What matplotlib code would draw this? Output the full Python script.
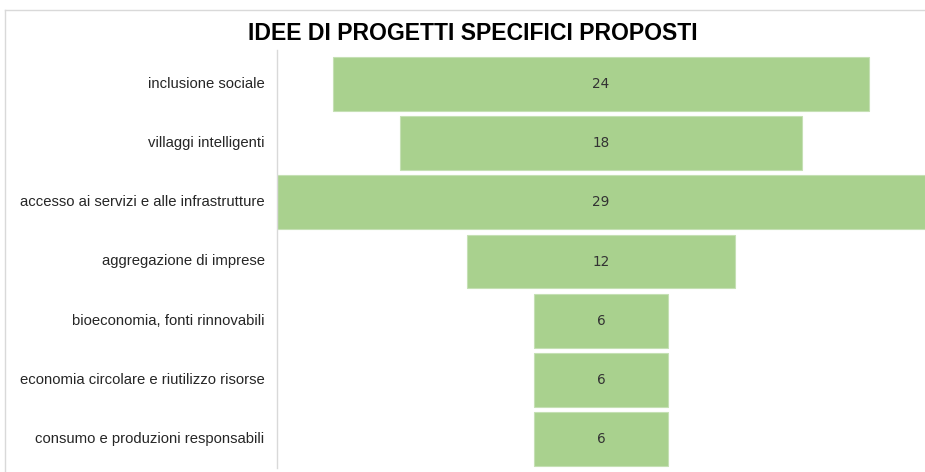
import matplotlib.pyplot as plt
from matplotlib.lines import Line2D

categories = [
    'inclusione sociale',
    'villaggi intelligenti',
    'accesso ai servizi e alle infrastrutture',
    'aggregazione di imprese',
    'bioeconomia, fonti rinnovabili',
    'economia circolare e riutilizzo risorse',
    'consumo e produzioni responsabili',
]
values = [24, 18, 29, 12, 6, 6, 6]
title = 'IDEE DI PROGETTI SPECIFICI PROPOSTI'

bar_color = '#A9D18E'

fig = plt.figure(figsize=(9.25, 4.72), dpi=100, facecolor='white')
W, H = 925, 472
# asse: da x=277 al bordo destro, da y=54 a y=469 (pixel)
ax = fig.add_axes([277 / W, 1 - 469 / H, 1 - 277 / W, (469 - 54) / H])

ypos = list(range(len(categories)))
lefts = [-v / 2 for v in values]
ax.barh(ypos, values, left=lefts, height=0.91, color=bar_color,
        edgecolor='#C5E0B4', linewidth=0.8)

for y, v in zip(ypos, values):
    ax.text(0, y, str(v), ha='center', va='center', fontsize=9.8,
            color='#333333', family='DejaVu Sans')

ax.set_xlim(-14.5, 14.5)
ax.set_ylim(len(categories) - 0.5, -0.5)
ax.set_xticks([])
ax.set_yticks([])
for s in ax.spines.values():
    s.set_visible(False)

# etichette delle categorie
for y, c in zip(ypos, categories):
    ax.annotate(c, xy=(0, y), xycoords=('axes fraction', 'data'),
                xytext=(-9, 0), textcoords='offset points',
                ha='right', va='center', fontsize=10.7,
                family='Liberation Sans', color='#262626')

# linea verticale dell'asse
fig.add_artist(Line2D([277 / W, 277 / W], [1 - 468 / H, 1 - 50 / H],
                      color='#D9D9D9', linewidth=1))
# bordo del grafico
fig.add_artist(Line2D([5 / W, 1], [1 - 10 / H, 1 - 10 / H],
                      color='#D9D9D9', linewidth=1))
fig.add_artist(Line2D([5 / W, 5 / W], [0, 1 - 10 / H],
                      color='#D9D9D9', linewidth=1))

fig.text(473 / W, 1 - 33 / H, title, ha='center', va='center',
         fontsize=16.6, fontweight='bold', family='Liberation Sans',
         color='black')

fig.savefig('out.png', dpi=100, facecolor='white')
